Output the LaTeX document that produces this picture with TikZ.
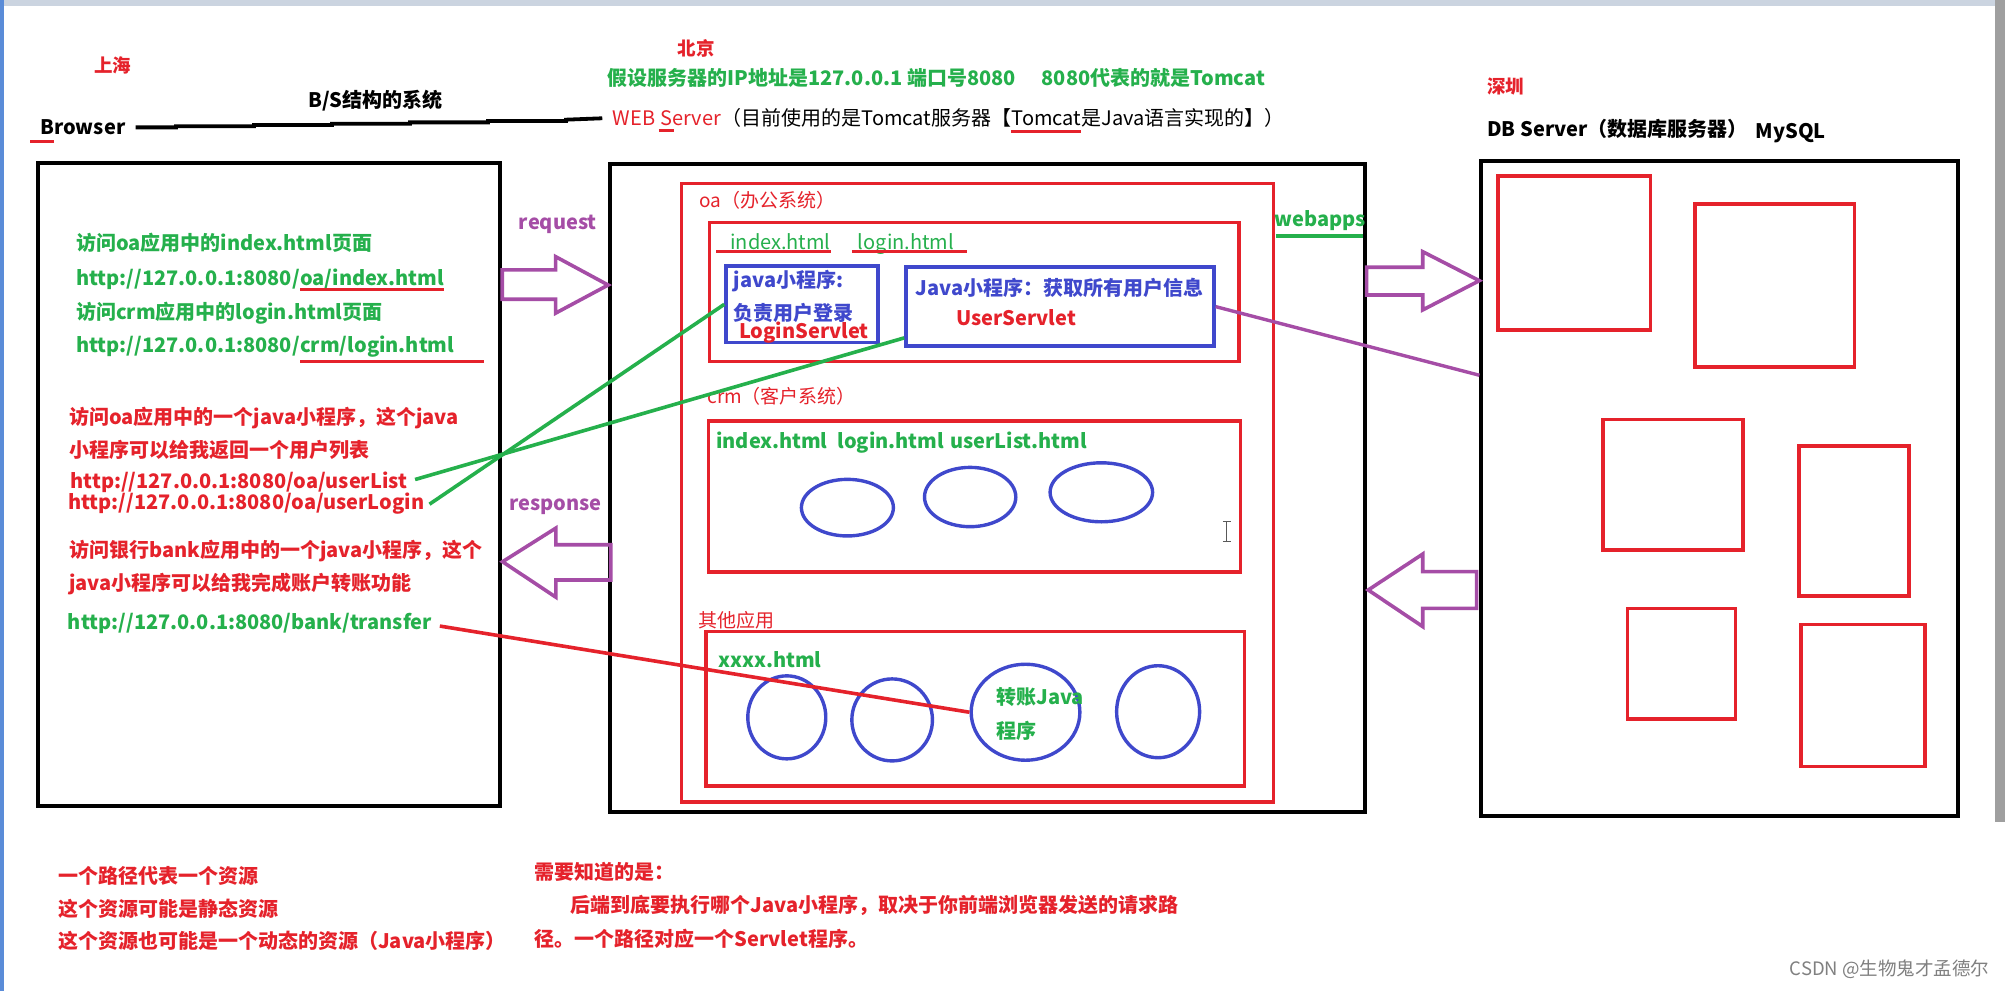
\documentclass[tikz,border=0pt]{standalone}
\usepackage{fontspec}
\setmainfont{Noto Sans CJK SC}
\usetikzlibrary{fit,shapes.geometric,calc}
\definecolor{cred}{HTML}{E5222B}
\definecolor{cgreen}{HTML}{25B04C}
\definecolor{cblue}{HTML}{3F48CC}
\definecolor{cpurple}{HTML}{A54DA6}
\definecolor{cstrip}{HTML}{CBD4E0}
\definecolor{cedge}{HTML}{5A8CD8}
\newcommand\fb{\fontsize{20}{24}\selectfont\bfseries}
\newcommand\fn{\fontsize{20}{24}\selectfont}
\begin{document}
\begin{tikzpicture}[x=1.2787pt,y=-1.2787pt,
  tx/.style={anchor=west,inner sep=0pt,text height=17.6pt,text depth=2.4pt,font=\fb},
  txn/.style={anchor=west,inner sep=0pt,text height=17.6pt,text depth=2.4pt,font=\fn},
  txs/.style={anchor=west,inner sep=0pt,text height=16.3pt,text depth=2.2pt,font=\fontsize{18.5}{22}\selectfont\bfseries},
  txsn/.style={anchor=west,inner sep=0pt,text height=16.7pt,text depth=2.3pt,font=\fontsize{19}{22}\selectfont},
  chain/.style={anchor=base west,inner sep=0pt,text height=17.6pt,text depth=2.4pt},
  blk/.style={draw=black,line width=3.9pt,inner sep=0pt},
  rbox/.style={draw=cred,line width=3.5pt,inner sep=0pt},
  bbox/.style={draw=cblue,line width=3.5pt,inner sep=0pt},
  ell/.style={draw=cblue,line width=3.4pt,ellipse,inner sep=0pt},
  uline/.style={draw=cred,line width=3pt},
  gline/.style={draw=cgreen,line width=3.6pt},
  pline/.style={draw=cpurple,line width=3.4pt},
  parrow/.style={draw=cpurple,line width=3.6pt,line join=miter},
]
\useasboundingbox (0,0) rectangle (1568,775);
\fill[white] (0,0) rectangle (1568,775);
\fill[cstrip] (0,0) rectangle (1568,4.7);
\fill[cedge] (0,0) rectangle (2.8,775);
\fill[gray!75] (1560,0) rectangle (1568,643);

% ---------- big boxes ----------
\node[blk,fit={(29.7,127.7)(391,630)}] (bro) {};
\node[blk,fit={(477,128)(1067.5,634.8)}] (srv) {};
\node[blk,fit={(1158.5,125.7)(1531,638)}] (db) {};
\node[rbox,fit={(533,143.4)(996,627)}] (oa) {};
\node[rbox,fit={(555,174)(969,282.8)}] (oain) {};
\node[bbox,fit={(567.8,208)(686.6,268)}] (jb1) {};
\node[bbox,fit={(708.5,209)(949.3,270.6)}] (jb2) {};
\node[rbox,fit={(554.2,329.2)(970,447.5)}] (crm) {};
\node[rbox,fit={(552,494)(973.4,614.7)}] (oth) {};

% ---------- DB tables ----------
\node[rbox,fit={(1171.4,137.6)(1290.8,258)}] (d1) {};
\node[rbox,fit={(1325.4,159.7)(1450.2,286.9)}] (d2) {};
\node[rbox,fit={(1253.6,328.2)(1363,430)}] (d3) {};
\node[rbox,fit={(1406.8,348.6)(1493,466)}] (d4) {};
\node[rbox,fit={(1272.8,475.8)(1357.3,562.3)}] (d5) {};
\node[rbox,fit={(1408.4,488.3)(1505.4,599.6)}] (d6) {};

% ---------- ellipses ----------
\node[ell,minimum width=92pt,minimum height=56.6pt] (e1) at (662.7,397) {};
\node[ell,minimum width=91.3pt,minimum height=59.3pt] (e2) at (758.7,388.7) {};
\node[ell,minimum width=102.5pt,minimum height=59pt] (e3) at (861.3,385) {};
\node[ell,minimum width=78pt,minimum height=83pt] (c1) at (615.3,561) {};
\node[ell,minimum width=80.6pt,minimum height=82pt] (c2) at (697.7,563) {};
\node[ell,minimum width=108.7pt,minimum height=96pt] (c3) at (802,557) {};
\node[ell,minimum width=83pt,minimum height=92pt] (c4) at (905.7,556.6) {};

% ---------- top texts ----------
\node[txs,text=cred] (sh) at (73.5,51.5) {上海};
\node[tx] (bs) at (241,78) {B/S结构的系统};
\node[tx] (brw) at (31.5,99.6) {Browser};
\draw[uline] ([xshift=-10pt,yshift=-6.5pt]brw.base west) -- ([xshift=13.4pt,yshift=-6.5pt]brw.base west);
\node[txs,text=cred] (bj) at (530,38) {北京};
\node[tx,text=cgreen] (ip) at (475,61.3) {假设服务器的IP地址是127.0.0.1 端口号8080\hspace{1.3em}8080代表的就是Tomcat};
\node[txn,text=cred] (w1) at (479,92.5) {WEB};
\node[chain,font=\fn,text=cred] (w2) at ([xshift=4.6pt]w1.base east) {S};
\node[chain,font=\fn,text=cred] (w3) at (w2.base east) {erver};
\node[chain,font=\fn] (w4) at (w3.base east) {（目前使用的是Tomcat服务器【};
\node[chain,font=\fn] (w5) at (w4.base east) {Tomcat};
\node[chain,font=\fn] (w6) at (w5.base east) {是Java语言实现的】）};
\draw[uline] ([xshift=-1pt,yshift=-5pt]w2.base west) -- ([xshift=2pt,yshift=-5pt]w2.base east);
\draw[uline] ([yshift=-6pt]w5.base west) -- ([yshift=-6pt]w5.base east);
\node[txs,text=cred] (sz) at (1163,67.3) {深圳};
\node[tx] (dbt) at (1163,101) {DB Server（数据库服务器）};
\node[tx] (mys) at (1373,102) {MySQL};

% stepped B/S line
\draw[line width=3.8pt] ($(brw.east)+(8,0)$) -- ++(31.5,0) -- ++(0,-0.9) -- ++(61,0) -- ++(0,-0.9) -- ++(61,0) -- ++(0,-1) -- ++(61,0) -- ++(0,-1.1) -- ++(61,0) -- ++(0,-1) -- ++(61,0) -- ++(0,-1.1) -- ($(w1.west)+(-8,0)$);

% ---------- browser texts ----------
\node[tx,text=cgreen] (g1) at (59.4,190) {访问oa应用中的index.html页面};
\node[tx,text=cgreen] (g2a) at (59.4,217.6) {http://127.0.0.1:8080/};
\node[chain,font=\fb,text=cgreen] (g2b) at (g2a.base east) {oa/index.html};
\draw[uline] ([yshift=-3.5pt]g2b.base west) -- ([yshift=-3.5pt]g2b.base east);
\node[tx,text=cgreen] (g3) at (59.4,244) {访问crm应用中的login.html页面};
\node[tx,text=cgreen] (g4a) at (59.4,270) {http://127.0.0.1:8080/};
\node[chain,font=\fb,text=cgreen] (g4b) at (g4a.base east) {crm/login.html};
\draw[uline] ([yshift=-8.8pt]g4b.base west) -- ([xshift=29pt,yshift=-8.8pt]g4b.base east);

\node[tx,text=cred] (r1) at (54,326) {访问oa应用中的一个java小程序，这个java};
\node[tx,text=cred] (r2) at (54,352) {小程序可以给我返回一个用户列表};
\node[tx,text=cred] (ulist) at (55,376) {http://127.0.0.1:8080/oa/userList};
\node[tx,text=cred] (ulogin) at (53.2,392.3) {http://127.0.0.1:8080/oa/userLogin};
\node[tx,text=cred] (r3) at (54,430) {访问银行bank应用中的一个java小程序，这个};
\node[tx,text=cred] (r4) at (54,456) {java小程序可以给我完成账户转账功能};
\node[tx,text=cgreen] (tr) at (53,486) {http://127.0.0.1:8080/bank/transfer};

% ---------- arrows ----------
\node[tx,text=cpurple] (req) at (405.7,173.4) {request};
\node[tx,text=cpurple] (resp) at (398,393) {response};
\draw[parrow] (392.8,211) -- (434.5,211) -- (434.5,200.7) -- (475.6,222.9) -- (434.5,244.9) -- (434.5,234) -- (392.8,234) -- cycle;
\draw[parrow] (477.6,426) -- (434.7,426) -- (434.7,413) -- (393,439.3) -- (434.7,467) -- (434.7,453.6) -- (477.6,453.6) -- cycle;
\draw[parrow] (1068.8,209) -- (1112.6,209) -- (1112.6,196.8) -- (1156.9,219.5) -- (1112.6,242.4) -- (1112.6,230.7) -- (1068.8,230.7) -- cycle;
\draw[parrow] (1154.8,447) -- (1112.6,447) -- (1112.6,433.3) -- (1070,461.4) -- (1112.6,490) -- (1112.6,475.8) -- (1154.8,475.8) -- cycle;

% ---------- server texts ----------
\node[txsn,text=cred] (oal) at (547,156.4) {oa（办公系统）};
\node[txn,text=cgreen] (ih) at (571,189) {index.html};
\node[txn,text=cgreen] (lh) at (670.8,189) {login.html};
\draw[uline] ([xshift=-14pt,yshift=-2pt]ih.base west) -- ([yshift=-2pt]ih.base east);
\draw[uline] ([xshift=-6pt,yshift=-2pt]lh.base west) -- ([xshift=12.8pt,yshift=-2pt]lh.base east);
\node[tx,text=cblue] (j1a) at (573.8,219) {java小程序:};
\node[tx,text=cblue] (j1b) at (573.8,244.5) {负责用户登录};
\node[tx,text=cred] (j1c) at (577.8,258.6) {LoginServlet};
\node[tx,text=cblue] (j2a) at (715.8,225.5) {Java小程序：获取所有用户信息};
\node[tx,text=cred] (j2b) at (747.7,249) {UserServlet};
\node[tx,text=cgreen] (wa) at (996.7,171.5) {webapps};
\draw[gline] ([xshift=1.5pt,yshift=-9.2pt]wa.base west) -- ([xshift=-3pt,yshift=-9.2pt]wa.base east);
\node[txsn,text=cred] (crml) at (553,310.2) {crm（客户系统）};
\node[tx,text=cgreen] (crmt) at (560,344.9) {index.html\hspace{0.5em}login.html\hspace{0.3em}userList.html};
\node[txsn,text=cred] (othl) at (546,484.9) {其他应用};
\node[tx,text=cgreen] (xx) at (561.8,516) {xxxx.html};
\node[tx,text=cgreen] (zz1) at (779,544.8) {转账Java};
\node[tx,text=cgreen] (zz2) at (779,571.4) {程序};

% text cursor
\draw[gray!70!black,line width=0.9pt] (959.3,408) -- (959.3,423.6);
\draw[gray!70!black,line width=0.9pt] (956.3,408) -- (962.3,408);
\draw[gray!70!black,line width=0.9pt] (956.3,423.6) -- (962.3,423.6);

% ---------- connectors ----------
\draw[gline] ($(ulist.east)+(6,-1)$) -- ($(jb2.south west)!0.12!(jb2.north west)$);
\draw[gline] ($(ulogin.east)+(4,2)$) -- (jb1.west);
\draw[pline] (jb2.east) -- ($(db.north west)!0.3285!(db.south west)$);
\draw[draw=cred,line width=3.6pt] ($(tr.east)+(6,3.6)$) -- (c3.west);

% ---------- bottom texts ----------
\node[tx,text=cred] (b1) at (45.4,685) {一个路径代表一个资源};
\node[tx,text=cred] (b2) at (45.4,711) {这个资源可能是静态资源};
\node[tx,text=cred] (b3) at (45.4,736) {这个资源也可能是一个动态的资源（Java小程序）};
\node[tx,text=cred] (m1) at (418,682) {需要知道的是：};
\node[tx,text=cred] (m2) at (446,708) {后端到底要执行哪个Java小程序，取决于你前端浏览器发送的请求路};
\node[tx,text=cred] (m3) at (418,734) {径。一个路径对应一个Servlet程序。};
\node[anchor=east,inner sep=0pt,text=gray,font=\fontsize{18.5}{22}\selectfont] (wm) at (1556,758) {CSDN @生物鬼才孟德尔};
\end{tikzpicture}
\end{document}
